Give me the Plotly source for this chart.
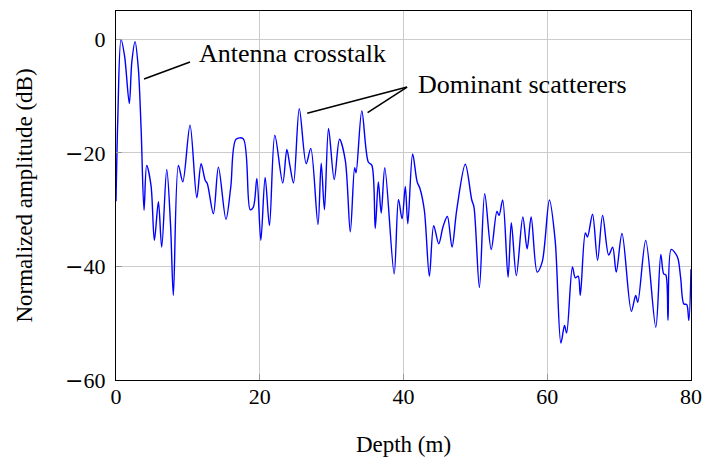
import plotly.graph_objects as go

depth_m = [0.0, 0.25, 0.7, 1.2, 1.85, 2.2, 2.65, 3.1, 3.5, 3.9, 4.27, 4.87, 5.34, 5.9, 6.36,
           7.06, 7.6, 7.98, 8.68, 9.29, 10.3, 11.24, 11.84, 12.4, 12.7, 13.55, 14.25, 15.3,
           15.97, 16.7, 17.7, 18.66, 19.1, 19.6, 20.15, 20.75, 21.35, 22.1, 23.2, 23.77, 24.2,
           24.7, 25.5, 26.46, 27.1, 28.1, 28.55, 29.0, 29.57, 30.36, 31.1, 31.9, 32.6, 33.2,
           33.4, 34.2, 35.1, 35.6, 36.07, 36.5, 36.9, 37.4, 38.7, 39.3, 39.8, 40.25, 40.6,
           41.27, 41.9, 42.3, 42.9, 43.6, 44.2, 44.9, 45.5, 46.1, 46.75, 47.4, 48.6, 49.5,
           49.8, 50.56, 51.3, 52.2, 53.0, 53.3, 53.8, 54.55, 55.0, 55.7, 56.6, 57.2, 57.76,
           58.6, 59.3, 60.3, 61.1, 61.9, 62.4, 62.7, 63.5, 63.9, 64.3, 64.6, 65.3, 65.6, 66.3,
           67.0, 67.7, 68.55, 69.1, 69.6, 70.4, 71.7, 72.3, 72.6, 73.7, 75.1, 75.8, 76.2,
           76.5, 76.8, 77.25, 78.1, 78.55, 79.0, 79.4, 79.7, 80.0]
amplitude_db = [-28.5, -14, 0, -3, -11.3, -4, -0.4, -5, -16, -30.1, -22.2, -25.7, -35.4, -28.6, -36.6,
                -22.9, -33, -45.1, -22.2, -25.1, -15.1, -27.9, -21.9, -24.8, -25.4, -30.7, -22.5, -31.7,
                -26, -17.6, -17.5, -30, -29.6, -24.5, -35.4, -24.3, -32.8, -16.9, -25.3, -19.4, -22.3,
                -25.3, -12.2, -21.9, -19.2, -32.6, -21.8, -30, -15.7, -24.7, -17.6, -21.3, -33.9, -22.6,
                -23.5, -12.6, -21.6, -22.2, -33.3, -25.1, -30.6, -22.6, -41.3, -28.2, -31.6, -25.9, -32.5,
                -20.2, -25.1, -26.3, -30.1, -41.7, -32.8, -36, -33, -31.2, -36.6, -30.1, -22, -28.3,
                -29.5, -43.7, -27.2, -37, -30.3, -31, -28.3, -41.9, -32.3, -41.6, -31.3, -36.9, -31.3,
                -41, -39.2, -28.3, -35.4, -53.5, -50.4, -51.7, -40.1, -42, -41.7, -45.1, -34.1, -34.8, -30.8,
                -38.9, -31, -38, -36.6, -41, -34.2, -47.9, -45.1, -46.3, -35.4, -50.7, -37.9, -41.3,
                -41.5, -49.5, -37, -38.3, -41.9, -46.6, -46.7, -49.5, -40.5]

x_ticks = [0, 20, 40, 60, 80]
x_tick_labels = ["0", "20", "40", "60", "80"]
y_ticks = [-60, -40, -20, 0]
MINUS = "<span style='font-family:DejaVu Serif'>\u2212</span>"
y_tick_labels = [MINUS + "60", MINUS + "40", MINUS + "20", "0"]

# annotation anchor points (data coordinates)
crosstalk_line = [(10.3, -4.0), (3.9, -7.0)]
scatter_hub = (40.5, -8.4)
scatter_targets = [(26.6, -13.0), (35.0, -12.9)]

FONT = "Liberation Serif"

fig = go.Figure()
fig.add_trace(go.Scatter(x=depth_m, y=amplitude_db, mode="lines",
                         line=dict(color="#0000ff", width=1.4, shape="spline", smoothing=0.9),
                         showlegend=False))

fig.add_shape(type="line", xref="x", yref="y",
              x0=crosstalk_line[0][0], y0=crosstalk_line[0][1],
              x1=crosstalk_line[1][0], y1=crosstalk_line[1][1],
              line=dict(color="black", width=1.6))
for tx, ty in scatter_targets:
    fig.add_shape(type="line", xref="x", yref="y",
                  x0=scatter_hub[0], y0=scatter_hub[1], x1=tx, y1=ty,
                  line=dict(color="black", width=1.6))

fig.add_annotation(x=crosstalk_line[0][0] + 1.0, y=crosstalk_line[0][1] + 1.6, xref="x", yref="y",
                   text="Antenna crosstalk", showarrow=False, xanchor="left", yanchor="middle",
                   font=dict(family=FONT, size=26, color="black"))
fig.add_annotation(x=scatter_hub[0] + 1.2, y=scatter_hub[1] + 0.5, xref="x", yref="y",
                   text="Dominant scatterers", showarrow=False, xanchor="left", yanchor="middle",
                   font=dict(family=FONT, size=26, color="black"))

axis_common = dict(showgrid=True, gridcolor="#cccccc", gridwidth=1,
                   showline=True, linecolor="black", linewidth=1.2, mirror=True,
                   ticks="inside", ticklen=6, tickcolor="#999999", zeroline=False,
                   ticklabeloverflow="allow",
                   tickfont=dict(family=FONT, size=22, color="black"))

fig.update_xaxes(range=[0, 80], tickvals=x_ticks, ticktext=x_tick_labels, ticklabelstandoff=-4,
                 title=dict(text="Depth (m)", font=dict(family=FONT, size=23, color="black"), standoff=30),
                 **axis_common)
fig.update_yaxes(range=[-60, 5], tickvals=y_ticks, ticktext=y_tick_labels, ticklabelstandoff=5,
                 title=dict(text="Normalized amplitude (dB)", font=dict(family=FONT, size=23, color="black"), standoff=26),
                 **axis_common)

fig.update_layout(width=707, height=457, margin=dict(l=116, r=16, t=11, b=77, autoexpand=False),
                  plot_bgcolor="white", paper_bgcolor="white",
                  font=dict(family=FONT, color="black"))

# remove the default 8px page margin so the figure fills the window exactly
fig.write_html("out.html", config={"displayModeBar": False},
               post_script="document.body.style.margin='0';document.body.style.overflow='hidden';")
